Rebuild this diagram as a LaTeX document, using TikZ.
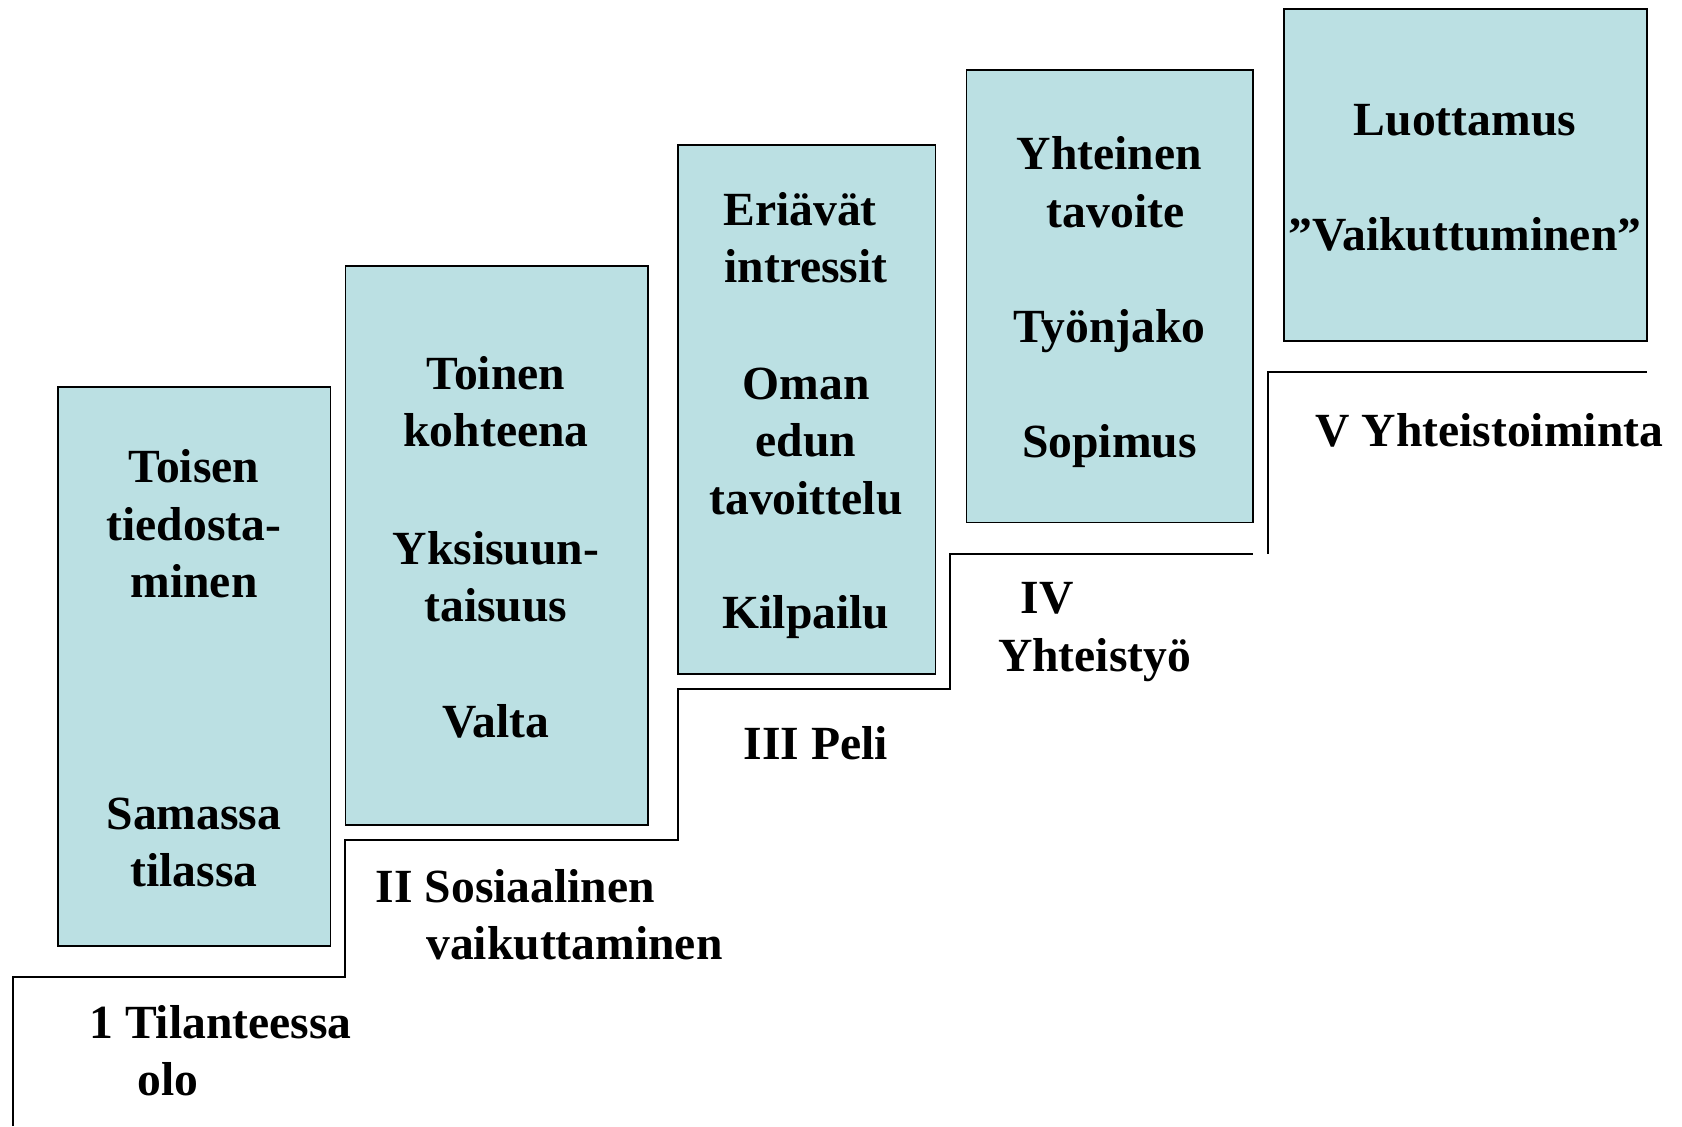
\documentclass[tikz,border=0pt]{standalone}
\usepackage{fontspec}
\setmainfont{Liberation Serif}
\definecolor{boxfill}{HTML}{BBE0E3}
\begin{document}
\begin{tikzpicture}[x=0.5pt,y=-0.5pt,
  stagebox/.style={draw=black, line width=0.9pt, fill=boxfill, inner sep=0pt},
  txt/.style={inner sep=0pt, anchor=base, font=\fontsize{23.8}{28.75}\selectfont\bfseries},
  lbl/.style={inner sep=0pt, anchor=base west, font=\fontsize{23.8}{28.75}\selectfont\bfseries},
  stair/.style={draw=black, line width=1pt}]
\useasboundingbox (0,0) rectangle (1682,1126);

% boxes
\node[stagebox, minimum width=136.25pt, minimum height=279.45pt] (b1) at (194.15,666.65) {};
\node[stagebox, minimum width=151.25pt, minimum height=279.45pt] (b2) at (496.65,545.45) {};
\node[stagebox, minimum width=128.7pt, minimum height=264.45pt] (b3) at (806.7,409.25) {};
\node[stagebox, minimum width=143.2pt, minimum height=226.35pt] (b4) at (1109.7,296.05) {};
\node[stagebox, minimum width=181.3pt, minimum height=166.25pt] (b5) at (1465.3,174.85) {};

% stairs
\coordinate (s0) at (12.9,1126);
\coordinate (s1) at (12.9,977.2);
\coordinate (s2) at (345.4,977.2);
\coordinate (s3) at (345.4,840.0);
\coordinate (s4) at (678.0,840.0);
\coordinate (s5) at (678.0,688.7);
\coordinate (s6) at (950.4,688.7);
\coordinate (s7) at (950.4,553.5);
\coordinate (s8) at (1252.9,553.5);
\coordinate (t0) at (1268,553.5);
\coordinate (t1) at (1268,372.2);
\coordinate (t2) at (1646.6,372.2);
\draw[stair] (s0) -- (s1) -- (s2) -- (s3) -- (s4) -- (s5) -- (s6) -- (s7) -- (s8);
\draw[stair] (t0) -- (t1) -- (t2);

% box 1
\node[txt] (b1a) at (194,482.7) {Toisen};
\node[txt] (b1b) at (194,540.2) {tiedosta-};
\node[txt] (b1c) at (194,597.7) {minen};
\node[txt] (b1d) at (194,829.2) {Samassa};
\node[txt] (b1e) at (194,886.7) {tilassa};

% box 2
\node[txt] (b2a) at (496,389.4) {Toinen};
\node[txt] (b2b) at (496,446.9) {kohteena};
\node[txt] (b2c) at (496,564.2) {Yksisuun-};
\node[txt] (b2d) at (496,621.7) {taisuus};
\node[txt] (b2e) at (496,737.0) {Valta};

% box 3
\node[txt] (b3a) at (800,225.3) {Eriävät};
\node[txt] (b3b) at (806,282.8) {intressit};
\node[txt] (b3c) at (806,399.0) {Oman};
\node[txt] (b3d) at (806,456.5) {edun};
\node[txt] (b3e) at (806,514.0) {tavoittelu};
\node[txt] (b3f) at (806,628.6) {Kilpailu};

% box 4
\node[txt] (b4a) at (1109.5,169.5) {Yhteinen};
\node[txt] (b4b) at (1115.5,227.0) {tavoite};
\node[txt] (b4c) at (1109.5,342.2) {Työnjako};
\node[txt] (b4d) at (1109.5,457.0) {Sopimus};

% box 5
\node[txt] (b5a) at (1465,135.2) {Luottamus};
\node[txt] (b5b) at (1465,250.0) {”Vaikuttuminen”};

% stage labels
\node[lbl] (l1a) at (89,1038.4) {1 Tilanteessa};
\node[lbl] (l1b) at (137.3,1095.9) {olo};
\node[lbl] (l2a) at (375.4,902.1) {II Sosiaalinen};
\node[lbl] (l2b) at (425.9,959.6) {vaikuttaminen};
\node[lbl] (l3) at (743.4,759.5) {III Peli};
\node[lbl] (l4a) at (1020.1,613.6) {IV};
\node[lbl] (l4b) at (997.6,671.1) {Yhteistyö};
\node[lbl] (l5) at (1315.1,446.2) {V Yhteistoiminta};
\end{tikzpicture}
\end{document}
